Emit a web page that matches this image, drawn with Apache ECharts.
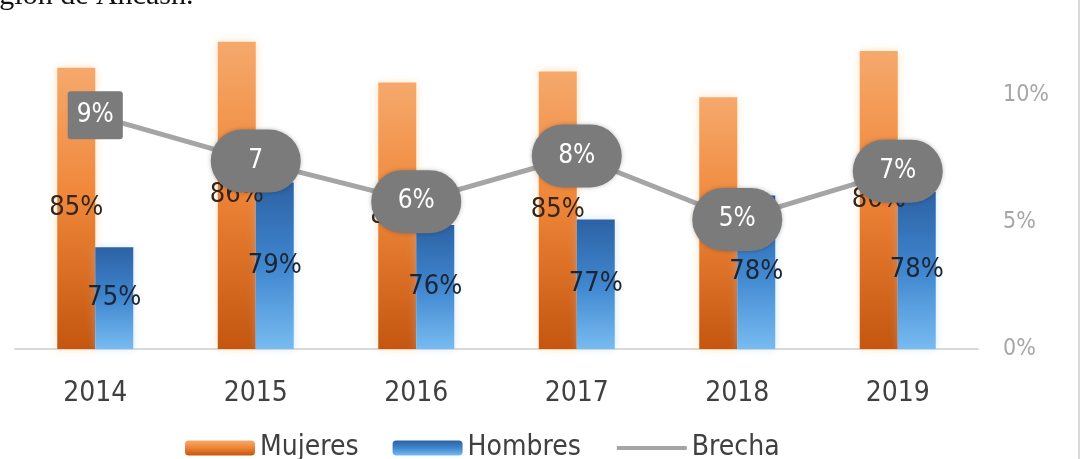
<!DOCTYPE html>
<html>
<head>
<meta charset="utf-8">
<script src="https://cdn.jsdelivr.net/npm/echarts@6/dist/echarts.min.js"></script>
<style>
html,body{margin:0;padding:0;background:#fff;}
#chart{width:1084px;height:459px;}
</style>
</head>
<body>
<div id="chart"></div>
<script>
const categories = ['2014', '2015', '2016', '2017', '2018', '2019'];
const mujeres = [84.9, 86.3, 84.1, 84.7, 83.3, 85.8];
const hombres = [75.2, 78.7, 76.4, 76.7, 78.0, 78.2];
const brecha = [9.2, 7.4, 5.8, 7.6, 5.1, 7.0];
const brechaLabels = ['9%', '7', '6%', '8%', '5%', '7%'];
const rightTicks = [0, 5, 10];
const captionText = 'región de Áncash.';

const FONT = "'DejaVu Sans Condensed', 'Liberation Sans', sans-serif";

const chart = echarts.init(document.getElementById('chart'), null, {renderer: 'canvas'});

const ellipseLabel = {
  show: true,
  position: 'inside',
  color: '#ffffff',
  fontFamily: FONT,
  fontSize: 26,
  backgroundColor: '#7b7b7b',
  width: 42,
  height: 25,
  align: 'center',
  verticalAlign: 'middle',
  padding: [19, 24],
  borderRadius: 32,
  shadowColor: 'rgba(0,0,0,0.25)',
  shadowBlur: 4
};
const boxLabel = {
  show: true,
  position: 'inside',
  color: '#ffffff',
  fontFamily: FONT,
  fontSize: 26,
  backgroundColor: '#7b7b7b',
  align: 'center',
  verticalAlign: 'middle',
  padding: [11, 9],
  borderRadius: 3
};

const brechaLabelData = brecha.map((v, i) => ({
  value: [categories[i], v],
  label: Object.assign({}, i === 0 ? boxLabel : ellipseLabel, {
    formatter: () => brechaLabels[i]
  })
}));

const option = {
  animation: false,
  backgroundColor: '#ffffff',
  graphic: [
    {
      type: 'text', left: -24, top: -19,
      style: {text: captionText, font: '30px "Liberation Serif"', fill: '#111'}
    },
    {
      type: 'line', shape: {x1: 1079, y1: 0, x2: 1079, y2: 459},
      style: {stroke: '#d9d9d9', lineWidth: 2}
    }
  ],
  grid: {left: 15, right: 106, top: 30, bottom: 110, containLabel: false},
  legend: {
    left: 180, top: 429,
    itemWidth: 70, itemHeight: 15, itemGap: 34,
    textStyle: {fontFamily: FONT, fontSize: 28, color: '#404040'},
    data: [
      'Mujeres',
      'Hombres',
      {name: 'Brecha', itemStyle: {opacity: 0}, lineStyle: {width: 4, color: '#a5a5a5'}}
    ]
  },
  xAxis: {
    type: 'category',
    data: categories,
    axisLine: {show: true, lineStyle: {color: '#d9d9d9', width: 2}},
    axisTick: {show: false},
    axisLabel: {fontFamily: FONT, fontSize: 28, color: '#404040', margin: 31}
  },
  yAxis: [
    {type: 'value', min: 69.7, max: 86.94, show: false, splitLine: {show: false}},
    {
      type: 'value', position: 'right', min: rightTicks[0], max: 12.56, interval: 5,
      axisLine: {show: false}, axisTick: {show: false}, splitLine: {show: false},
      axisLabel: {
        fontFamily: FONT, fontSize: 23, color: '#a6a6a6', margin: 25,
        showMaxLabel: false,
        formatter: v => (rightTicks.indexOf(v) >= 0 ? v + '%' : '')
      }
    }
  ],
  series: [
    {
      name: 'Mujeres', type: 'bar', yAxisIndex: 0, data: mujeres,
      barWidth: 38, barGap: '0%',
      itemStyle: {
        color: new echarts.graphic.LinearGradient(0, 0, 0, 1, [
          {offset: 0, color: '#f5a96c'},
          {offset: 0.45, color: '#f0873a'},
          {offset: 1, color: '#c4560f'}
        ]),
        shadowColor: 'rgba(255,190,110,0.45)', shadowBlur: 8
      },
      label: {
        show: true, position: 'inside', fontFamily: FONT, fontSize: 27, color: '#33261c',
        formatter: p => Math.round(p.value) + '%'
      },
      z: 2
    },
    {
      name: 'Hombres', type: 'bar', yAxisIndex: 0, data: hombres,
      barWidth: 38, barGap: '0%',
      itemStyle: {
        color: new echarts.graphic.LinearGradient(0, 0, 0, 1, [
          {offset: 0, color: '#2c62a4'},
          {offset: 0.5, color: '#3f86cf'},
          {offset: 1, color: '#78bbf1'}
        ]),
        shadowColor: 'rgba(150,200,255,0.4)', shadowBlur: 8
      },
      label: {
        show: true, position: 'inside', fontFamily: FONT, fontSize: 27, color: '#1c2533',
        formatter: p => Math.round(p.value) + '%'
      },
      z: 2
    },
    {
      name: 'Brecha', type: 'line', yAxisIndex: 1, data: brecha,
      symbol: 'none',
      lineStyle: {color: '#a5a5a5', width: 5},
      itemStyle: {color: '#a5a5a5'},
      z: 5
    },
    {
      name: 'BrechaEtiquetas', type: 'scatter', yAxisIndex: 1, data: brechaLabelData,
      symbol: 'circle', symbolSize: 0,
      itemStyle: {color: '#7b7b7b', opacity: 1},
      silent: true,
      z: 6
    }
  ]
};
chart.setOption(option);
</script>
</body>
</html>
